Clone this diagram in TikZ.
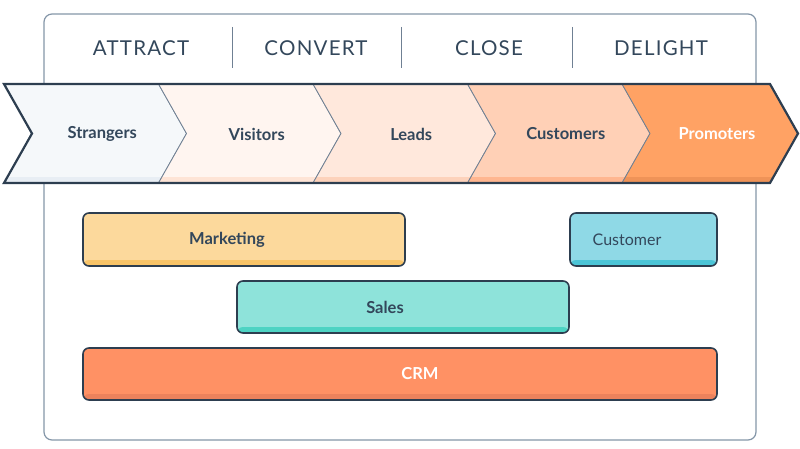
\documentclass[tikz,border=0pt]{standalone}
\usepackage{fontspec}
\setmainfont{Lato}
\newfontfamily\headfont[LetterSpace=6]{Lato}

\definecolor{navy}{HTML}{2D3E50}
\definecolor{ink}{HTML}{33475B}
\definecolor{framegray}{HTML}{8496A8}
\definecolor{edgegray}{HTML}{6F8093}
\definecolor{strfill}{HTML}{F5F8FA}
\definecolor{strstrip}{HTML}{E8EEF4}
\definecolor{visfill}{HTML}{FFF5F0}
\definecolor{visstrip}{HTML}{FEE4D6}
\definecolor{leafill}{HTML}{FFE8DC}
\definecolor{leastrip}{HTML}{FDD2BB}
\definecolor{cusfill}{HTML}{FFD0B6}
\definecolor{cusstrip}{HTML}{FFB690}
\definecolor{profill}{HTML}{FFA264}
\definecolor{prostrip}{HTML}{EF9358}
\definecolor{mktfill}{HTML}{FCD99C}
\definecolor{mktstrip}{HTML}{F8C468}
\definecolor{cstfill}{HTML}{8FD9E6}
\definecolor{cststrip}{HTML}{4CC5D7}
\definecolor{salfill}{HTML}{8EE3DA}
\definecolor{salstrip}{HTML}{4DD3C3}
\definecolor{crmfill}{HTML}{FF9164}
\definecolor{crmstrip}{HTML}{EC825C}

\begin{document}
\begin{tikzpicture}[x=1pt,y=-1pt,
  head/.style={font=\headfont\fontsize{20.5}{24}\selectfont, text=ink},
  stagetext/.style={font=\fontsize{16.5}{19}\selectfont\bfseries},
  boxtext/.style={font=\fontsize{16.5}{19}\selectfont\bfseries, text=ink},
  box/.style 2 args={draw=navy, line width=1.6pt, rounded corners=6pt,
    fill=#1, inner sep=0pt,
    path picture={\fill[#2] ([yshift=6pt]path picture bounding box.south west)
      rectangle (path picture bounding box.south east);}}]

\useasboundingbox (0,0) rectangle (800,449);

% frame
\draw[framegray, line width=1.2pt, rounded corners=8pt] (44,14) rectangle (756,440);

% stage headers
\node[head] (attract) at (141,48) {ATTRACT};
\node[head] (convert) at (316,48) {CONVERT};
\node[head] (close) at (489,48) {CLOSE};
\node[head] (delight) at (661,48) {DELIGHT};
\foreach \x in {232,401,572}
  \draw[edgegray, line width=1pt] (\x,27) -- (\x,68);

% chevrons
\foreach \x/\w/\fil/\str/\nm/\txt/\tc in {
    4/154.5/strfill/strstrip/strangers/Strangers/ink,
    158.5/154.5/visfill/visstrip/visitors/Visitors/ink,
    313/154.5/leafill/leastrip/leads/Leads/ink,
    467.5/154.5/cusfill/cusstrip/customers/Customers/ink,
    622/148/profill/prostrip/promoters/Promoters/white}
{
  \def\chev{(\x,84) -- (\x+\w,84) -- (\x+\w+28,133.5) -- (\x+\w,183) -- (\x,183) -- (\x+28,133.5) -- cycle}
  \fill[\fil] \chev;
  \begin{scope}
  \clip \chev;
  \fill[\str] (\x,177) rectangle (\x+\w+28,183);
  \end{scope}
  \draw[edgegray, line width=0.8pt] \chev;
  \node[stagetext, text=\tc] (\nm) at (\x+\w/2+21,134) {\txt};
}
\draw[navy, line width=2.2pt] (4,84) -- (770,84) -- (798,133.5) -- (770,183)
  -- (4,183) -- (32,133.5) -- cycle;

% teams
\node[box={mktfill}{mktstrip}, minimum width=322pt, minimum height=53pt] (marketing) at (244,239.5) {};
\node[boxtext] (marketinglabel) at (227,240) {Marketing};
\node[box={cstfill}{cststrip}, minimum width=147pt, minimum height=53pt] (customer) at (643.5,239.5) {};
\node[boxtext, font=\fontsize{16}{19}\selectfont] (customerlabel) at (627,240) {Customer};
\node[box={salfill}{salstrip}, minimum width=332pt, minimum height=52pt] (sales) at (403,307) {};
\node[boxtext] (saleslabel) at (385,307) {Sales};
\node[box={crmfill}{crmstrip}, minimum width=634pt, minimum height=52pt] (crm) at (400,374) {};
\node[boxtext, text=white] (crmlabel) at (420,374) {CRM};

\end{tikzpicture}
\end{document}
